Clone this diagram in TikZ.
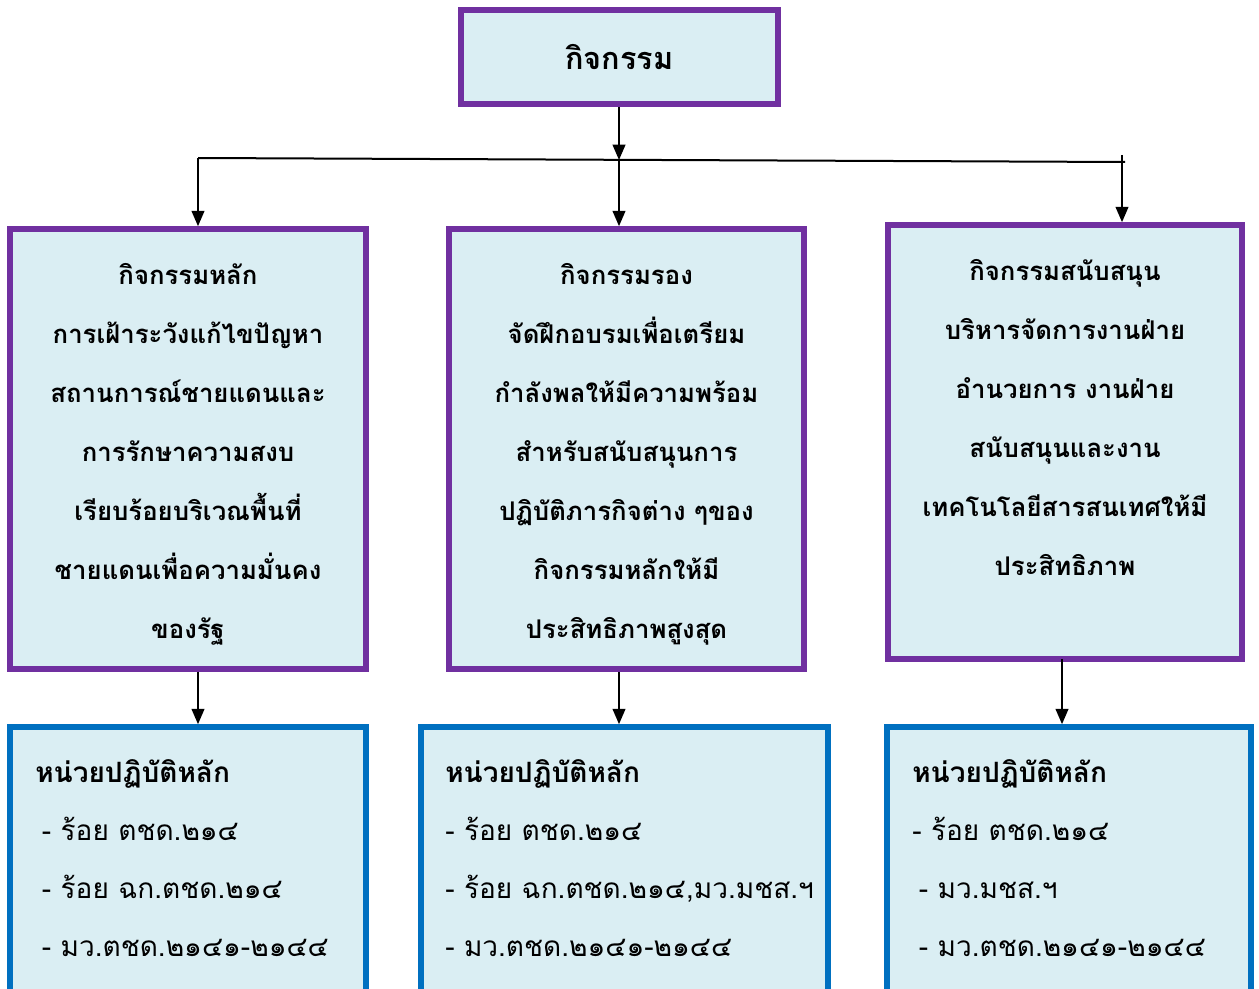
\documentclass[tikz,border=0pt]{standalone}
\usepackage{fontspec}
\newfontfamily\thai[Script=Thai]{Loma}
\usetikzlibrary{arrows.meta}
\definecolor{boxpurple}{HTML}{7030A0}
\definecolor{boxblue}{HTML}{0070C0}
\definecolor{boxfill}{HTML}{DAEEF3}
\tikzset{
  actbox/.style={draw=boxpurple, fill=boxfill, line width=4.2pt, inner sep=0pt},
  unitbox/.style={draw=boxblue, fill=boxfill, line width=4.2pt, inner sep=0pt},
  acttext/.style={font=\thai\bfseries\fontsize{19.3pt}{44.25pt}\selectfont, align=center, inner sep=0pt},
  titletext/.style={font=\thai\bfseries\fontsize{23pt}{28pt}\selectfont, inner sep=0pt},
  unittext/.style={font=\thai\fontsize{21pt}{43.5pt}\selectfont, align=left, inner sep=0pt},
  arr/.style={line width=1.5pt, -{Triangle[width=9.5pt,length=11.5pt]}},
  plainline/.style={line width=1.5pt}
}
\begin{document}
\begin{tikzpicture}[x=0.75pt,y=-0.75pt]
\useasboundingbox (0,0) rectangle (1259,988);
\clip (0,0) rectangle (1259,988);
% boxes
\node[actbox, minimum width=317*0.75pt, minimum height=94*0.75pt] (top) at (619.5,57) {};
\node[actbox, minimum width=356*0.75pt, minimum height=440*0.75pt] (b1) at (188,449) {};
\node[actbox, minimum width=355*0.75pt, minimum height=440*0.75pt] (b2) at (626.5,449) {};
\node[actbox, minimum width=354*0.75pt, minimum height=434*0.75pt] (b3) at (1065,442) {};
\node[unitbox, minimum width=356*0.75pt, minimum height=290*0.75pt] (u1) at (188,872) {};
\node[unitbox, minimum width=407*0.75pt, minimum height=290*0.75pt] (u2) at (624.5,872) {};
\node[unitbox, minimum width=364*0.75pt, minimum height=290*0.75pt] (u3) at (1069,872) {};
% texts (base anchor = baseline of the last line)
\node[titletext, anchor=base] (t0) at (619.5,70) {กิจกรรม};
\node[acttext, anchor=base] (t1) at (188,638) {กิจกรรมหลัก\\การเฝ้าระวังแก้ไขปัญหา\\สถานการณ์ชายแดนและ\\การรักษาความสงบ\\เรียบร้อยบริเวณพื้นที่\\ชายแดนเพื่อความมั่นคง\\ของรัฐ};
\node[acttext, anchor=base] (t2) at (626.5,638) {กิจกรรมรอง\\จัดฝึกอบรมเพื่อเตรียม\\กำลังพลให้มีความพร้อม\\สำหรับสนับสนุนการ\\ปฏิบัติภารกิจต่าง ๆของ\\กิจกรรมหลักให้มี\\ประสิทธิภาพสูงสุด};
\node[acttext, anchor=base] (t3) at (1065,575) {กิจกรรมสนับสนุน\\บริหารจัดการงานฝ่าย\\อำนวยการ งานฝ่าย\\สนับสนุนและงาน\\เทคโนโลยีสารสนเทศให้มี\\ประสิทธิภาพ};
\node[unittext, anchor=base west] (s1) at (35,956) {{\bfseries หน่วยปฏิบัติหลัก}\\\hspace*{5pt}- ร้อย ตชด.๒๑๔\\\hspace*{5pt}- ร้อย ฉก.ตชด.๒๑๔\\\hspace*{5pt}- มว.ตชด.๒๑๔๑-๒๑๔๔};
\node[unittext, anchor=base west] (s2) at (445,956) {{\bfseries หน่วยปฏิบัติหลัก}\\- ร้อย ตชด.๒๑๔\\- ร้อย ฉก.ตชด.๒๑๔,มว.มชส.ฯ\\- มว.ตชด.๒๑๔๑-๒๑๔๔};
\node[unittext, anchor=base west] (s3) at (912,956) {{\bfseries หน่วยปฏิบัติหลัก}\\- ร้อย ตชด.๒๑๔\\\hspace*{5pt}- มว.มชส.ฯ\\\hspace*{5pt}- มว.ตชด.๒๑๔๑-๒๑๔๔};
% connectors
\coordinate (jL) at (198,158);
\coordinate (jM) at (619,160);
\coordinate (jE) at (1125,162);
\coordinate (jRt) at (1122,155);
\draw[plainline] (jL) -- (jE);
\draw[arr] (top.south -| jM) -- (jM);
\draw[arr] (jM) -- (jM |- b2.north);
\draw[arr] (jL) -- (jL |- b1.north);
\draw[arr] (jRt) -- (jRt |- b3.north);
\draw[arr] (b1.south -| jL) -- (u1.north -| jL);
\draw[arr] (b2.south -| jM) -- (u2.north -| jM);
\coordinate (jB) at (1062,659);
\draw[arr] (jB) -- (jB |- u3.north);
\end{tikzpicture}
\end{document}
